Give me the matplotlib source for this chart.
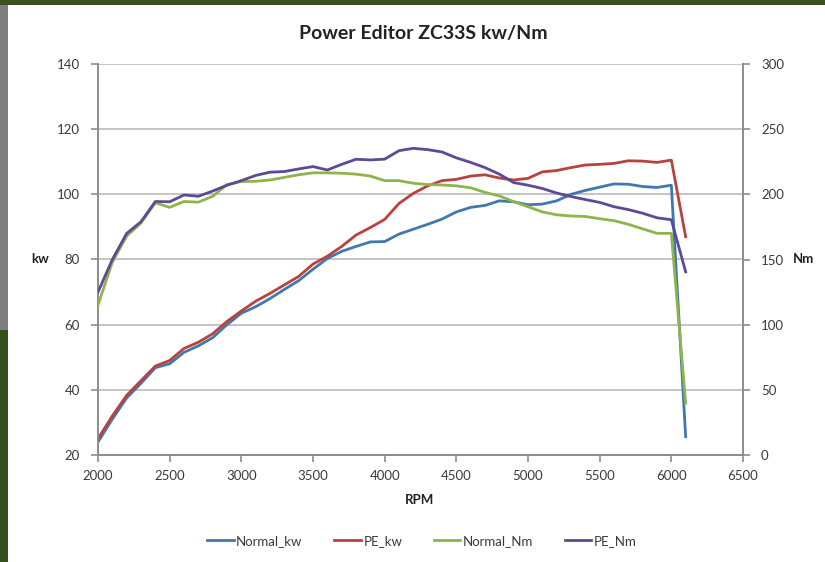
import matplotlib
matplotlib.use("Agg")
import matplotlib.pyplot as plt
from matplotlib.patches import Rectangle

rpm = [2000, 2100, 2200, 2300, 2400, 2500, 2600, 2700, 2800, 2900,
       3000, 3100, 3200, 3300, 3400, 3500, 3600, 3700, 3800, 3900,
       4000, 4100, 4200, 4300, 4400, 4500, 4600, 4700, 4800, 4900,
       5000, 5100, 5200, 5300, 5400, 5500, 5600, 5700, 5800, 5900,
       6000, 6100]

normal_kw = [24.0, 31.0, 37.5, 42.0, 46.8, 48.0, 51.5, 53.5, 56.0, 60.0,
             63.5, 65.5, 68.0, 70.8, 73.5, 77.0, 80.3, 82.5, 84.0, 85.4,
             85.5, 87.8, 89.3, 90.8, 92.4, 94.6, 96.0, 96.6, 98.0, 97.7,
             96.8, 97.0, 98.0, 100.0, 101.2, 102.2, 103.2, 103.1, 102.4, 102.1,
             102.8, 25.6]

pe_kw = [25.0, 32.0, 38.3, 42.8, 47.3, 49.0, 52.7, 54.6, 57.2, 61.0,
         64.2, 67.2, 69.6, 72.2, 74.8, 78.6, 81.0, 84.0, 87.5, 89.8,
         92.3, 97.2, 100.3, 102.6, 104.2, 104.6, 105.6, 106.0, 105.0, 104.4,
         104.9, 106.9, 107.3, 108.2, 109.0, 109.2, 109.5, 110.3, 110.2, 109.8,
         110.5, 87.0]

normal_nm = [115.0, 148.0, 168.0, 178.0, 193.5, 190.0, 194.5, 194.0, 198.5, 207.5,
             209.8, 210.0, 211.0, 213.0, 215.0, 216.5, 216.5, 216.2, 215.5, 214.0,
             210.5, 210.5, 208.5, 207.5, 207.2, 206.5, 205.0, 201.5, 198.8, 194.4,
             190.5, 186.5, 184.3, 183.4, 183.0, 181.3, 179.8, 177.0, 173.5, 170.1,
             170.0, 39.7]

pe_nm = [125.0, 150.0, 170.0, 179.0, 194.5, 194.3, 199.5, 198.5, 202.5, 207.0,
         210.5, 214.5, 217.0, 217.5, 219.5, 221.3, 218.7, 223.0, 226.9, 226.4,
         227.0, 233.5, 235.3, 234.3, 232.5, 228.0, 224.5, 220.5, 215.5, 209.0,
         207.0, 204.5, 201.0, 198.3, 196.0, 193.8, 190.5, 188.3, 185.5, 182.0,
         180.5, 140.5]

x_ticks = [2000, 2500, 3000, 3500, 4000, 4500, 5000, 5500, 6000, 6500]
kw_ticks = [20, 40, 60, 80, 100, 120, 140]
nm_ticks = [0, 50, 100, 150, 200, 250, 300]

plt.rcParams['font.family'] = ['Lato', 'DejaVu Sans']

c_blue = '#3F79B0'
c_red = '#B9423F'
c_green = '#8FB44C'
c_purple = '#5C4A96'
axis_c = '#8C8C8C'
grid_c = '#C4C4C4'
text_c = '#3A3A3A'

fig = plt.figure(figsize=(8.25, 5.62), dpi=100, facecolor='white')

# screenshot frame remnants
fig.patches.append(Rectangle((0, 1 - 5 / 562), 1, 5 / 562, transform=fig.transFigure,
                             facecolor='#3A5220', edgecolor='none', zorder=0))
fig.patches.append(Rectangle((0, 1 - 330 / 562), 8 / 825, 325 / 562, transform=fig.transFigure,
                             facecolor='#7E7E7E', edgecolor='none', zorder=0))
fig.patches.append(Rectangle((0, 0), 8 / 825, 232 / 562, transform=fig.transFigure,
                             facecolor='#34501C', edgecolor='none', zorder=0))

ax = fig.add_axes([98 / 825, 1 - 455 / 562, (743 - 98) / 825, (455 - 64) / 562])
ax2 = ax.twinx()

ax.set_xlim(2000, 6500)
ax.set_ylim(20, 140)
ax2.set_ylim(0, 300)

ax.set_xticks(x_ticks)
ax.set_yticks(kw_ticks)
ax2.set_yticks(nm_ticks)

ax.yaxis.grid(True, color=grid_c, linewidth=1.4)
ax.set_axisbelow(True)

for a in (ax, ax2):
    a.set_facecolor('none')
    a.spines['top'].set_visible(False)
    for s in ('left', 'right', 'bottom'):
        a.spines[s].set_color(axis_c)
        a.spines[s].set_linewidth(1.2)
    a.tick_params(colors=axis_c, labelcolor=text_c, labelsize=9.5, length=5, width=1.2)
ax.tick_params(axis='x', pad=6)
ax.tick_params(axis='y', pad=8)
ax2.tick_params(axis='y', pad=8)
ax.patch.set_facecolor('white')
ax.set_zorder(1)
ax2.set_zorder(2)

lw = 2.0
l1, = ax.plot(rpm, normal_kw, color=c_blue, lw=lw, label='Normal_kw', zorder=3,
              solid_joinstyle='round')
l2, = ax.plot(rpm, pe_kw, color=c_red, lw=lw, label='PE_kw', zorder=3,
              solid_joinstyle='round')
l3, = ax2.plot(rpm, normal_nm, color=c_green, lw=lw, label='Normal_Nm', zorder=3,
               solid_joinstyle='round')
l4, = ax2.plot(rpm, pe_nm, color=c_purple, lw=lw, label='PE_Nm', zorder=3,
               solid_joinstyle='round')

fig.text(423 / 825, 1 - 33 / 562, 'Power Editor ZC33S kw/Nm', ha='center', va='center',
         fontsize=14, fontweight='bold', color='#222222')
fig.text(40 / 825, 1 - 259 / 562, 'kw', ha='center', va='center', fontsize=9.5,
         fontweight='bold', color='#222222')
fig.text(804 / 825, 1 - 259 / 562, 'Nm', ha='center', va='center', fontsize=9.5,
         fontweight='bold', color='#222222')
fig.text(420 / 825, 1 - 500 / 562, 'RPM', ha='center', va='center', fontsize=9.5,
         fontweight='bold', color='#222222')

fig.legend(handles=[l1, l2, l3, l4], loc='center', bbox_to_anchor=(422 / 825, 1 - 541 / 562),
           ncol=4, frameon=False, fontsize=9.5, handlelength=2.0, handletextpad=0.2,
           columnspacing=2.4, labelcolor=text_c)

fig.savefig('out.png', dpi=100, facecolor='white')
